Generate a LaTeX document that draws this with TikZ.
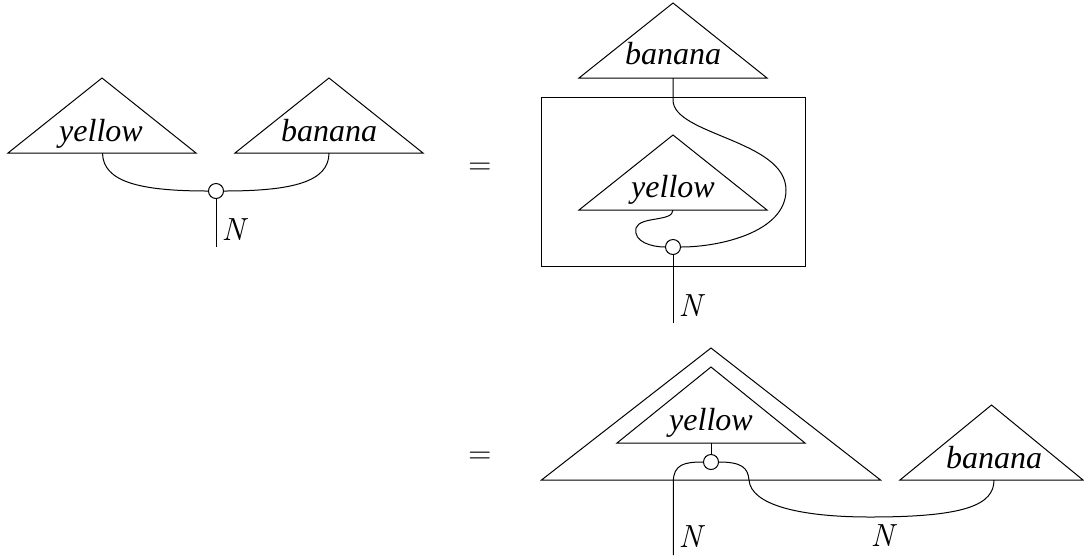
\documentclass[tikz,border=0pt]{standalone}
\usepackage{fontspec}
\newfontfamily\timesfont{Liberation Serif}
\begin{document}
\begin{tikzpicture}[x=1pt,y=-1pt,line width=1pt,
  lbl/.style={font=\fontsize{32}{38}\selectfont\timesfont\itshape,anchor=base,inner sep=0pt},
  nlbl/.style={font=\fontsize{32}{38}\selectfont\itshape,anchor=base west,inner sep=0pt},
  dot/.style={draw,circle,fill=white,minimum size=15pt,inner sep=0pt},
  eq/.style={font=\fontsize{32}{38}\selectfont,inner sep=0pt}]
\useasboundingbox (0,0) rectangle (1084,558);
% ---------- left diagram ----------
\draw (8,153) -- (102,78) -- (196,153) -- cycle;
\coordinate (y1) at (102.5,153);
\node[lbl] (ty1) at (101,141.7) {yellow};
\draw (235,153) -- (329,78) -- (423,153) -- cycle;
\coordinate (b1) at (329,153);
\node[lbl] (tb1) at (329,141.7) {banana};
\node[dot] (c1) at (216,191) {};
\coordinate (n1) at (216,247);
\draw (y1) .. controls (103,182) and (140,191) .. (c1.west);
\draw (b1) .. controls (329,182) and (292,191) .. (c1.east);
\draw (c1.south) -- (n1);
\node[nlbl] (N1) at (221,240) {N};
% ---------- equals ----------
\node[eq] (eq1) at (480,168.5) {=};
\node[eq] (eq2) at (480,458) {=};
% ---------- top-right diagram ----------
\draw (579,78) -- (673,3) -- (767,78) -- cycle;
\coordinate (b2) at (673,78);
\node[lbl] (tb2) at (673,64.5) {banana};
\draw (541,97) rectangle (805,266);
\draw (579,210) -- (673,135) -- (767,210) -- cycle;
\coordinate (y2) at (673,210);
\node[lbl] (ty2) at (673,197.5) {yellow};
\node[dot] (c2) at (673,247) {};
\coordinate (n2) at (673,323);
\draw (b2) -- (673,100) .. controls (673,135) and (786,140) .. (786,190)
      .. controls (786,232) and (720,247) .. (c2.east);
\draw (y2) .. controls (673,222) and (640,216) .. (636,228)
      .. controls (633,242) and (652,247) .. (c2.west);
\draw (c2.south) -- (n2);
\node[nlbl] (N2) at (678,316.7) {N};
% ---------- bottom-right diagram ----------
\draw (541.5,480) -- (711,348) -- (880.5,480) -- cycle;
\draw (617,443) -- (711,367) -- (805,443) -- cycle;
\coordinate (y3) at (711,443);
\node[lbl] (ty3) at (711,430.7) {yellow};
\draw (900,480) -- (991.5,405) -- (1083,480) -- cycle;
\coordinate (b3) at (994,480);
\node[lbl] (tb3) at (994,468.3) {banana};
\node[dot] (c3) at (711,462) {};
\coordinate (n3) at (673.3,555);
\draw (y3) -- (c3.north);
\draw (c3.west) .. controls (685,462) and (673.3,464) .. (673.3,482) -- (n3);
\draw (c3.east) .. controls (742,462) and (748,468) .. (749,480)
      .. controls (751,505) and (800,517) .. (870,517)
      .. controls (965,517) and (994,505) .. (b3);
\node[nlbl] (N3) at (678,547.3) {N};
\node[nlbl] (N4) at (870,546.7) {N};
\end{tikzpicture}
\end{document}
